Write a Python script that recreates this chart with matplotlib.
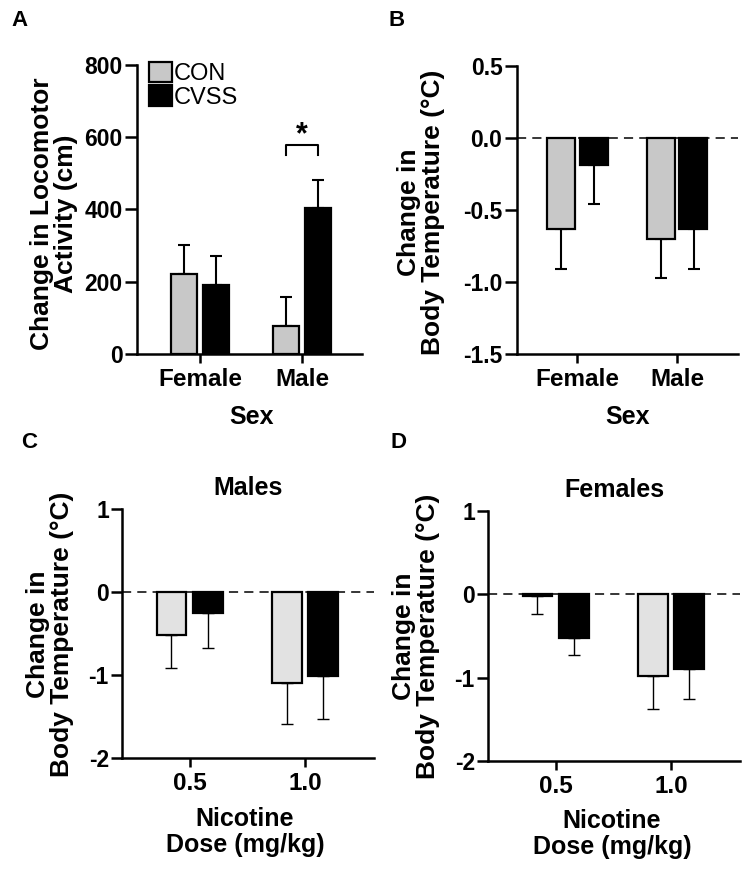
import matplotlib
matplotlib.use("Agg")
import matplotlib.pyplot as plt
import numpy as np

plt.rcParams['font.family'] = ['Liberation Sans', 'DejaVu Sans']

# ---- data ----
sexes = ['Female', 'Male']
loco_con = [222, 77]
loco_con_err = [80, 80]
loco_cvss = [192, 404]
loco_cvss_err = [78, 78]

temp_con = [-0.63, -0.70]
temp_con_err = [0.28, 0.27]
temp_cvss = [-0.19, -0.63]
temp_cvss_err = [0.27, 0.28]

doses = ['0.5', '1.0']
male_con = [-0.52, -1.10]
male_con_err = [0.40, 0.49]
male_cvss = [-0.25, -1.01]
male_cvss_err = [0.42, 0.52]

female_con = [-0.02, -0.98]
female_con_err = [0.22, 0.39]
female_cvss = [-0.52, -0.90]
female_cvss_err = [0.21, 0.36]

groups = ['CON', 'CVSS']
yticks_a = [0, 200, 400, 600, 800]
yticks_b = [0.5, 0.0, -0.5, -1.0, -1.5]
yticks_cd = [1, 0, -1, -2]

W, H = 751, 871
fig = plt.figure(figsize=(W / 100, H / 100), dpi=100)


def add_ax(x0, y0, x1, y1):
    return fig.add_axes([x0 / W, 1 - y1 / H, (x1 - x0) / W, (y1 - y0) / H])


def style(ax, ylen, xlen):
    for s in ['top', 'right']:
        ax.spines[s].set_visible(False)
    for s in ['left', 'bottom']:
        ax.spines[s].set_linewidth(1.8)
    ax.tick_params(axis='y', length=ylen, width=1.8, pad=1.5, labelsize=16.5)
    ax.tick_params(axis='x', length=xlen, width=1.8, pad=3.5, labelsize=17.5)
    for lab in ax.get_xticklabels() + ax.get_yticklabels():
        lab.set_fontweight('bold')


def draw_bars(ax, con, con_err, cvss, cvss_err, off, width, gray, elw):
    x = np.arange(len(con))
    b1 = ax.bar(x - off, con, width, color=gray, edgecolor='black', linewidth=1.6, zorder=3, label=groups[0])
    b2 = ax.bar(x + off, cvss, width, color='black', edgecolor='black', linewidth=1.6, zorder=3, label=groups[1])
    for xs, vals, errs in [(x - off, con, con_err), (x + off, cvss, cvss_err)]:
        for xi, v, e in zip(xs, vals, errs):
            if v >= 0:
                yerr = [[0], [e]]
            else:
                yerr = [[e], [0]]
            ax.errorbar([xi], [v], yerr=yerr, fmt='none', ecolor='black', elinewidth=elw,
                        capsize=4, capthick=elw, zorder=2)
    return b1, b2


# ---- Panel A ----
axA = add_ax(137, 65, 362, 354)
b1, b2 = draw_bars(axA, loco_con, loco_con_err, loco_cvss, loco_cvss_err, 0.16, 0.255, '#c8c8c8', 1.5)
axA.set_ylim(0, 800)
axA.set_xlim(-0.618, 1.588)
axA.set_yticks(yticks_a)
axA.set_yticklabels([str(v) for v in yticks_a])
axA.set_xticks(range(len(sexes)))
axA.set_xticklabels(sexes)
style(axA, 9, 6.5)
# significance bracket
xl, xr = 1 - 0.16, 1 + 0.16
axA.plot([xl, xl, xr, xr], [551, 579, 579, 551], color='black', lw=1.5, clip_on=False)
axA.text((xl + xr) / 2, 606, '*', ha='center', va='center', fontsize=22, fontweight='bold')
leg = axA.legend(handles=[b1, b2], labels=groups, loc='upper left', bbox_to_anchor=(0.055, 1.01),
                 frameon=False, fontsize=17, handlelength=0.95, handleheight=0.95,
                 labelspacing=0.0, handletextpad=0.1, borderpad=0, borderaxespad=0)

# ---- Panel B ----
axB = add_ax(517, 66, 738, 354)
draw_bars(axB, temp_con, temp_con_err, temp_cvss, temp_cvss_err, 0.165, 0.28, '#c8c8c8', 1.5)
axB.axhline(0, color='black', lw=1.1, ls=(0, (6, 4)), zorder=1)
axB.set_ylim(-1.5, 0.5)
axB.set_xlim(-0.6, 1.61)
axB.set_yticks(yticks_b)
axB.set_yticklabels(['%.1f' % v for v in yticks_b])
axB.set_xticks(range(len(sexes)))
axB.set_xticklabels(sexes)
style(axB, 9, 6.5)

# ---- Panel C ----
axC = add_ax(122, 509, 374, 758)
draw_bars(axC, male_con, male_con_err, male_cvss, male_cvss_err, 0.16, 0.26, '#e2e2e2', 1.0)
axC.axhline(0, color='black', lw=1.1, ls=(0, (6, 4)), zorder=1)
axC.set_ylim(-2, 1)
axC.set_xlim(-0.59, 1.6)
axC.set_yticks(yticks_cd)
axC.set_yticklabels([str(v) for v in yticks_cd])
axC.set_xticks(range(len(doses)))
axC.set_xticklabels(doses)
style(axC, 8, 6.5)
axC.set_title('Males', fontsize=18, fontweight='bold', pad=10)

# ---- Panel D ----
axD = add_ax(488, 511, 740, 761)
draw_bars(axD, female_con, female_con_err, female_cvss, female_cvss_err, 0.16, 0.26, '#e2e2e2', 1.0)
axD.axhline(0, color='black', lw=1.1, ls=(0, (6, 4)), zorder=1)
axD.set_ylim(-2, 1)
axD.set_xlim(-0.59, 1.6)
axD.set_yticks(yticks_cd)
axD.set_yticklabels([str(v) for v in yticks_cd])
axD.set_xticks(range(len(doses)))
axD.set_xticklabels(doses)
style(axD, 8, 6.5)
axD.set_title('Females', fontsize=18, fontweight='bold', pad=10)


def ftext(x, y, s, **kw):
    fig.text(x / W, 1 - y / H, s, **kw)


# axis labels
ylab_kw = dict(rotation=90, ha='center', va='center', fontsize=19, fontweight='bold', linespacing=1.05)
ftext(54, 214, 'Change in Locomotor\nActivity (cm)', **ylab_kw)
ftext(421, 212, 'Change in\nBody Temperature (\u00b0C)', **ylab_kw)
ftext(50, 634, 'Change in\nBody Temperature (\u00b0C)', **ylab_kw)
ftext(416, 636, 'Change in\nBody Temperature (\u00b0C)', **ylab_kw)

ftext(252, 417, 'Sex', ha='center', va='center', fontsize=18, fontweight='bold')
ftext(628, 417, 'Sex', ha='center', va='center', fontsize=18, fontweight='bold')
ftext(245, 832, 'Nicotine\nDose (mg/kg)', ha='center', va='center', fontsize=18,
      fontweight='bold', linespacing=1.12)
ftext(612, 834, 'Nicotine\nDose (mg/kg)', ha='center', va='center', fontsize=18,
      fontweight='bold', linespacing=1.12)

# panel letters
for x, y, s in [(20, 20, 'A'), (397, 20, 'B'), (29, 442, 'C'), (399, 442, 'D')]:
    ftext(x, y, s, ha='center', va='center', fontsize=16, fontweight='bold')

fig.savefig('out.png', dpi=100)
